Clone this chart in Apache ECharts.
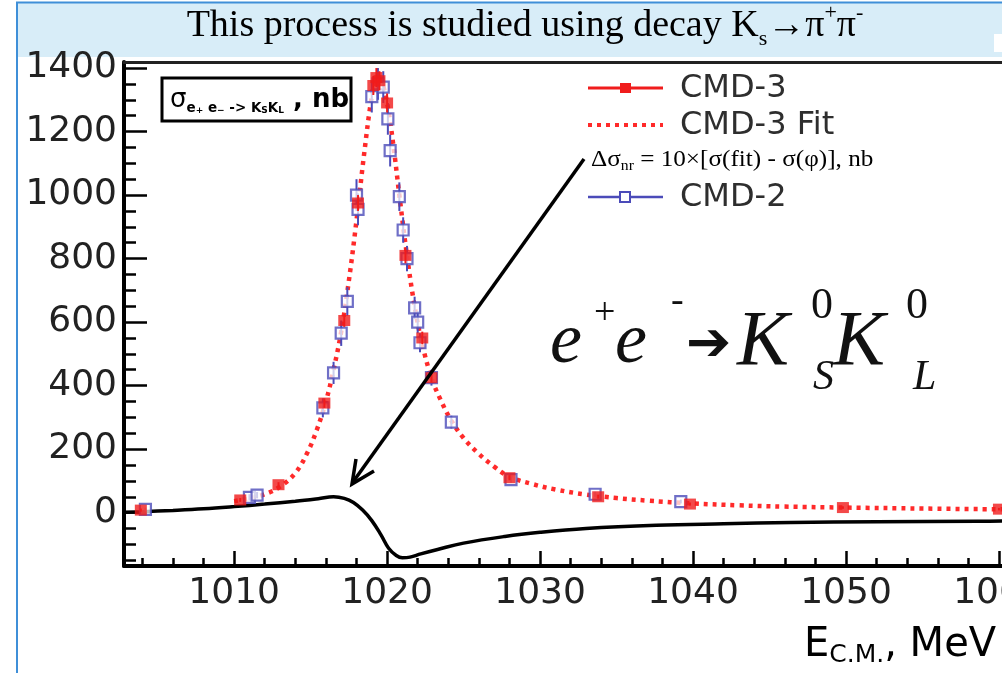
<!DOCTYPE html>
<html>
<head>
<meta charset="utf-8">
<title>e+e- → KS KL cross section</title>
<script src="https://cdn.jsdelivr.net/npm/echarts@6/dist/echarts.min.js"></script>
<style>
  html, body { margin: 0; padding: 0; background: #ffffff; }
  #chart { width: 1002px; height: 673px; }
</style>
</head>
<body>
<div id="chart"></div>
<script>
// Axis ranges and tick positions (MeV / nb)
const xRange = [1002.8, 1060.2];
const yRange = [-168, 1419];
const xMajorTicks = [1010, 1020, 1030, 1040, 1050, 1060];
const xMinorTicks = [1004, 1006, 1008, 1012, 1014, 1016, 1018, 1022, 1024, 1026, 1028,
  1032, 1034, 1036, 1038, 1042, 1044, 1046, 1048, 1052, 1054, 1056, 1058];
const yMajorTicks = [0, 200, 400, 600, 800, 1000, 1200, 1400];
const yMinorTicks = [-150, -100, -50, 50, 100, 150, 250, 300, 350, 450, 500, 550, 650, 700, 750,
  850, 900, 950, 1050, 1100, 1150, 1250, 1300, 1350];

// CMD-3 fit curve
const fitEnergy = [1010.0, 1011.0, 1012.0, 1013.0, 1014.0, 1014.8, 1015.4, 1016.0, 1016.5, 1017.0,
  1017.5, 1018.0, 1018.5, 1019.0, 1019.3, 1019.6, 1020.0, 1020.4, 1020.8, 1021.3, 1021.8, 1022.3,
  1022.9, 1023.5, 1024.2, 1025.0, 1026.0, 1027.0, 1028.0, 1029.5, 1031.0, 1033.0, 1035.0, 1037.0,
  1040.0, 1043.0, 1046.0, 1050.0, 1055.0, 1061.0];
const fitValue = [36, 45, 58, 82, 125, 190, 260, 350, 450, 570,
  730, 920, 1130, 1310, 1365, 1360, 1290, 1160, 1000, 810, 650, 530,
  425, 355, 290, 235, 185, 145, 113, 90, 73, 57, 46, 38,
  29, 23, 19, 16, 13, 10];

// Δσ_nr = 10×[σ(fit) − σ(φ)]
const deltaEnergy = [1002.8, 1004, 1006, 1008, 1010, 1012, 1014, 1015.5, 1016.5, 1017.2, 1017.8,
  1018.4, 1019.0, 1019.6, 1020.1, 1020.6, 1021.0, 1021.5, 1022.2, 1023.3, 1025.0, 1027.7, 1030.0,
  1033.0, 1037.6, 1042.0, 1046.4, 1052.0, 1058.6, 1061.0];
const deltaValue = [1, 3, 7, 12, 19, 27, 36, 44, 50, 45, 32,
  8, -25, -70, -112, -135, -142, -140, -130, -116, -96, -75, -62,
  -50, -40, -35, -31, -29, -27, -26];

// CMD-3 measurements
const cmd3Energy = [1003.9, 1010.4, 1012.9, 1015.9, 1017.2, 1018.1, 1019.1, 1019.3, 1019.5, 1020.0,
  1021.2, 1022.3, 1022.9, 1028.0, 1033.8, 1039.8, 1049.8, 1060.0];
const cmd3Value = [8, 40, 88, 345, 605, 975, 1345, 1370, 1360, 1290,
  810, 550, 425, 110, 50, 27, 16, 11];
const cmd3Error = [5, 6, 8, 15, 20, 25, 30, 30, 30, 30, 25, 20, 15, 8, 6, 5, 4, 4];

// CMD-2 measurements
const cmd2Energy = [1004.2, 1011.0, 1011.5, 1015.8, 1016.5, 1017.0, 1017.4, 1018.0, 1018.1, 1019.0,
  1019.4, 1019.75, 1020.05, 1020.2, 1020.8, 1021.05, 1021.3, 1021.8, 1022.0, 1022.15, 1022.9,
  1024.2, 1028.1, 1033.6, 1039.2];
const cmd2Value = [10, 48, 55, 330, 440, 565, 665, 1000, 955, 1310,
  1350, 1340, 1240, 1140, 995, 890, 800, 645, 600, 535, 425,
  285, 104, 58, 35];
const cmd2Error = [6, 10, 10, 30, 35, 40, 45, 50, 50, 50,
  50, 50, 50, 50, 45, 40, 40, 35, 35, 30, 25,
  20, 10, 8, 6];

const RED = '#f01c1c';
const BLUE = '#4b4bb9';

const zip = (xs, ys) => xs.map((x, i) => [x, ys[i]]);
const errRows = (xs, ys, es) => xs.map((x, i) => [x, ys[i] - es[i], ys[i] + es[i]]);

function errorBars(color, width) {
  return function (params, api) {
    const lo = api.coord([api.value(0), api.value(1)]);
    const hi = api.coord([api.value(0), api.value(2)]);
    return {
      type: 'line',
      shape: { x1: lo[0], y1: lo[1], x2: hi[0], y2: hi[1] },
      style: { stroke: color, lineWidth: width }
    };
  };
}

const labelFont = { fontFamily: 'DejaVu Sans', fontSize: 36, color: '#222', formatter: v => String(v) };

function xAxisDef(extra) {
  return Object.assign({
    type: 'value', min: xRange[0], max: xRange[1], position: 'bottom',
    axisLine: { show: false, onZero: false },
    axisTick: { show: false },
    axisLabel: { show: false },
    splitLine: { show: false }
  }, extra);
}
function yAxisDef(extra) {
  return Object.assign({
    type: 'value', min: yRange[0], max: yRange[1], position: 'left',
    axisLine: { show: false, onZero: false },
    axisTick: { show: false },
    axisLabel: { show: false },
    splitLine: { show: false }
  }, extra);
}

const chart = echarts.init(document.getElementById('chart'), null, { renderer: 'canvas' });

const option = {
  animation: false,
  backgroundColor: '#ffffff',
  grid: { left: 124, right: 0, top: 62, bottom: 107, containLabel: false, outerBoundsMode: 'none' },
  xAxis: [
    xAxisDef({
      axisLine: { show: true, onZero: false, lineStyle: { color: '#000', width: 4 } },
      axisTick: { show: true, inside: true, length: 15, customValues: xMajorTicks, lineStyle: { color: '#000', width: 2.5 } },
      axisLabel: Object.assign({ show: true, customValues: xMajorTicks, margin: 10 }, labelFont)
    }),
    xAxisDef({
      axisTick: { show: true, inside: true, length: 8, customValues: xMinorTicks, lineStyle: { color: '#000', width: 2.5 } }
    }),
    xAxisDef({
      position: 'top',
      axisLine: { show: true, onZero: false, lineStyle: { color: '#222', width: 3 } }
    })
  ],
  yAxis: [
    yAxisDef({
      axisLine: { show: true, onZero: false, lineStyle: { color: '#000', width: 4 } },
      axisTick: { show: true, inside: true, length: 23, customValues: yMajorTicks, lineStyle: { color: '#000', width: 2.5 } },
      axisLabel: Object.assign({ show: true, customValues: yMajorTicks, margin: 7 }, labelFont)
    }),
    yAxisDef({
      axisTick: { show: true, inside: true, length: 12, customValues: yMinorTicks, lineStyle: { color: '#000', width: 2.5 } }
    })
  ],
  series: [
    {
      name: 'Δσnr', type: 'line', data: zip(deltaEnergy, deltaValue),
      smooth: 0.4, showSymbol: false, symbol: 'none',
      lineStyle: { color: '#000', width: 3.5 }, z: 2
    },
    {
      name: 'CMD-3 Fit', type: 'line', data: zip(fitEnergy, fitValue),
      smooth: 0.4, showSymbol: false, symbol: 'none',
      lineStyle: { color: '#ff2a2a', width: 4.5, type: [4, 5] }, z: 3
    },
    {
      name: 'CMD-2 errors', type: 'custom', renderItem: errorBars(BLUE, 2),
      data: errRows(cmd2Energy, cmd2Value, cmd2Error), encode: { x: 0, y: [1, 2] }, z: 4
    },
    {
      name: 'CMD-2', type: 'scatter', data: zip(cmd2Energy, cmd2Value),
      symbol: 'rect', symbolSize: [11, 11],
      itemStyle: { color: 'rgba(255,255,255,0.9)', borderColor: BLUE, borderWidth: 2.2 }, z: 5
    },
    {
      name: 'CMD-3 errors', type: 'custom', renderItem: errorBars(RED, 2),
      data: errRows(cmd3Energy, cmd3Value, cmd3Error), encode: { x: 0, y: [1, 2] }, z: 6
    },
    {
      name: 'CMD-3', type: 'scatter', data: zip(cmd3Energy, cmd3Value),
      symbol: 'rect', symbolSize: [12, 11],
      itemStyle: { color: RED }, z: 7
    }
  ],
  graphic: [
    // slide header band and frame
    { type: 'rect', z: -20, shape: { x: 17, y: 2, width: 985, height: 55 }, style: { fill: '#d8edf8' } },
    { type: 'rect', z: -19, shape: { x: 18, y: 57, width: 984, height: 616 }, style: { fill: '#ffffff' } },
    { type: 'rect', z: -18, shape: { x: 994, y: 34, width: 8, height: 18 }, style: { fill: '#ffffff' } },
    { type: 'line', z: -17, shape: { x1: 16, y1: 2.5, x2: 1002, y2: 2.5 }, style: { stroke: '#3f8fd8', lineWidth: 2 } },
    { type: 'line', z: -17, shape: { x1: 17, y1: 2, x2: 17, y2: 673 }, style: { stroke: '#3f8fd8', lineWidth: 2 } },
    {
      type: 'text', z: 10, x: 525, y: 26,
      style: {
        text: '{n|This process is studied using decay K}{sub|s}{n|→π}{sup|+}{n|π}{sup|-}',
        align: 'center', verticalAlign: 'middle',
        rich: {
          n: { fontFamily: 'Liberation Serif', fontSize: 38, lineHeight: 48, color: '#000' },
          sub: { fontFamily: 'Liberation Serif', fontSize: 22, lineHeight: 34, verticalAlign: 'bottom', color: '#000' },
          sup: { fontFamily: 'Liberation Serif', fontSize: 22, lineHeight: 22, verticalAlign: 'top', color: '#000' }
        }
      }
    },
    // boxed quantity label
    { type: 'rect', z: 10, shape: { x: 162, y: 78, width: 189, height: 43 }, style: { fill: '#fff', stroke: '#000', lineWidth: 3 } },
    {
      type: 'text', z: 11, x: 170, y: 100,
      style: {
        text: '{s|σ}{a|e}{p|+}{a| e}{p|−}{a| -> K}{q|S}{a|K}{q|L}{b| , nb}',
        verticalAlign: 'middle',
        rich: {
          s: { fontFamily: 'DejaVu Sans', fontSize: 26, lineHeight: 30, color: '#222' },
          a: { fontFamily: 'DejaVu Sans', fontSize: 13.5, fontWeight: 'bold', lineHeight: 20, verticalAlign: 'bottom', color: '#222' },
          p: { fontFamily: 'DejaVu Sans', fontSize: 9, fontWeight: 'bold', lineHeight: 26, verticalAlign: 'bottom', color: '#222' },
          q: { fontFamily: 'DejaVu Sans', fontSize: 9, fontWeight: 'bold', lineHeight: 12, verticalAlign: 'bottom', color: '#222' },
          b: { fontFamily: 'DejaVu Sans', fontSize: 26, fontWeight: 'bold', lineHeight: 30, color: '#222' }
        }
      }
    },
    // legend
    { type: 'line', z: 10, shape: { x1: 588, y1: 88, x2: 663, y2: 88 }, style: { stroke: RED, lineWidth: 3 } },
    { type: 'rect', z: 11, shape: { x: 620, y: 83, width: 11, height: 10 }, style: { fill: RED } },
    { type: 'text', z: 10, x: 680, y: 89, style: { text: 'CMD-3', fontFamily: 'DejaVu Sans', fontSize: 32, fill: '#2e2e2e', verticalAlign: 'middle' } },
    { type: 'line', z: 10, shape: { x1: 588, y1: 125, x2: 663, y2: 125 }, style: { stroke: '#ff2a2a', lineWidth: 4, lineDash: [4, 5] } },
    { type: 'text', z: 10, x: 680, y: 126, style: { text: 'CMD-3 Fit', fontFamily: 'DejaVu Sans', fontSize: 32, fill: '#2e2e2e', verticalAlign: 'middle' } },
    {
      type: 'text', z: 10, x: 591, y: 160, scaleX: 1.12,
      style: {
        text: '{n|Δσ}{sub|nr}{n| = 10×[σ(fit) - σ(φ)], nb}',
        verticalAlign: 'middle',
        rich: {
          n: { fontFamily: 'Liberation Serif', fontSize: 22.5, lineHeight: 26, color: '#000' },
          sub: { fontFamily: 'Liberation Serif', fontSize: 14, lineHeight: 16, verticalAlign: 'bottom', color: '#000' }
        }
      }
    },
    { type: 'line', z: 10, shape: { x1: 588, y1: 197, x2: 663, y2: 197 }, style: { stroke: BLUE, lineWidth: 2.5 } },
    { type: 'rect', z: 11, shape: { x: 620, y: 192, width: 10, height: 10 }, style: { fill: '#fff', stroke: BLUE, lineWidth: 2 } },
    { type: 'text', z: 10, x: 680, y: 198, style: { text: 'CMD-2', fontFamily: 'DejaVu Sans', fontSize: 32, fill: '#2e2e2e', verticalAlign: 'middle' } },
    // arrow from the Δσ label to the curve
    { type: 'line', z: 12, shape: { x1: 584, y1: 159, x2: 353, y2: 482 }, style: { stroke: '#000', lineWidth: 3.5 } },
    { type: 'polyline', z: 12, shape: { points: [[374, 471], [352, 484], [356, 459]] }, style: { stroke: '#000', lineWidth: 3.5, fill: null } },
    // reaction formula
    { type: 'text', z: 10, x: 550, y: 343, style: { text: 'e', fontFamily: 'Liberation Serif', fontStyle: 'italic', fontSize: 72, fill: '#111', verticalAlign: 'middle' } },
    { type: 'text', z: 10, x: 594, y: 314, style: { text: '+', fontFamily: 'Liberation Serif', fontSize: 38, fill: '#111', verticalAlign: 'middle' } },
    { type: 'text', z: 10, x: 615, y: 343, style: { text: 'e', fontFamily: 'Liberation Serif', fontStyle: 'italic', fontSize: 72, fill: '#111', verticalAlign: 'middle' } },
    { type: 'text', z: 10, x: 671, y: 302, style: { text: '-', fontFamily: 'Liberation Serif', fontSize: 38, fill: '#111', verticalAlign: 'middle' } },
    { type: 'text', z: 10, x: 686, y: 346, style: { text: '➔', fontFamily: 'DejaVu Sans', fontSize: 54, fill: '#111', verticalAlign: 'middle' } },
    { type: 'text', z: 10, x: 737, y: 343, style: { text: 'K', fontFamily: 'Liberation Serif', fontStyle: 'italic', fontSize: 78, fill: '#111', verticalAlign: 'middle' } },
    { type: 'text', z: 10, x: 811, y: 306, style: { text: '0', fontFamily: 'Liberation Serif', fontSize: 44, fill: '#111', verticalAlign: 'middle' } },
    { type: 'text', z: 10, x: 813, y: 378, style: { text: 'S', fontFamily: 'Liberation Serif', fontStyle: 'italic', fontSize: 42, fill: '#111', verticalAlign: 'middle' } },
    { type: 'text', z: 10, x: 833, y: 343, style: { text: 'K', fontFamily: 'Liberation Serif', fontStyle: 'italic', fontSize: 78, fill: '#111', verticalAlign: 'middle' } },
    { type: 'text', z: 10, x: 906, y: 306, style: { text: '0', fontFamily: 'Liberation Serif', fontSize: 44, fill: '#111', verticalAlign: 'middle' } },
    { type: 'text', z: 10, x: 913, y: 378, style: { text: 'L', fontFamily: 'Liberation Serif', fontStyle: 'italic', fontSize: 42, fill: '#111', verticalAlign: 'middle' } },
    // x-axis title
    {
      type: 'text', z: 10, x: 804, y: 646,
      style: {
        text: '{b|E}{s|C.M.}{b|, MeV}', verticalAlign: 'middle',
        rich: {
          b: { fontFamily: 'DejaVu Sans', fontSize: 40, lineHeight: 44, color: '#222' },
          s: { fontFamily: 'DejaVu Sans', fontSize: 25, lineHeight: 28, verticalAlign: 'bottom', color: '#222' }
        }
      }
    }
  ]
};

chart.setOption(option);
</script>
</body>
</html>
